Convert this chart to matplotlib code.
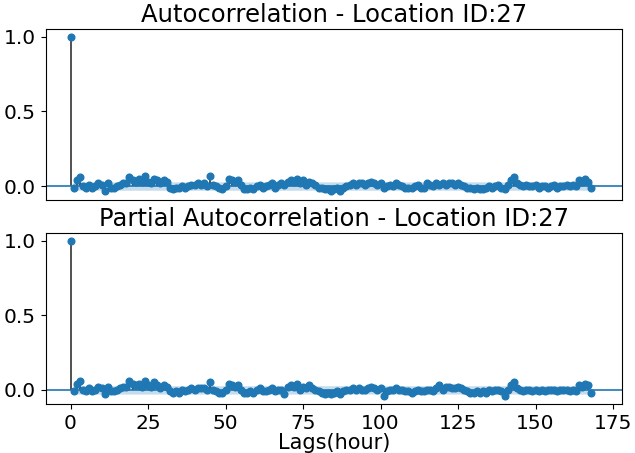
import numpy as np
import matplotlib
matplotlib.use("Agg")
import matplotlib.pyplot as plt

# autocorrelation values, lags 0..168
acf_vals = [
    1.0, -0.01, 0.04, 0.06, 0.00, -0.01, 0.01, -0.01, 0.00, 0.02,
    0.01, -0.03, 0.02, -0.01, -0.01, 0.00, 0.01, 0.02, 0.02, 0.06,
    0.04, 0.03, 0.05, 0.03, 0.07, 0.03, 0.02, 0.05, 0.04, 0.02,
    0.04, 0.03, -0.01, -0.02, -0.01, -0.01, 0.00, -0.01, 0.00, 0.01,
    0.01, 0.02, 0.01, 0.02, 0.00, 0.07, 0.01, 0.00, -0.01, -0.02,
    0.00, 0.05, 0.04, 0.03, 0.04, 0.01, -0.02, -0.02, -0.01, -0.02,
    0.00, 0.01, -0.01, 0.00, 0.01, 0.02, -0.01, 0.01, 0.02, 0.01,
    0.03, 0.04, 0.03, 0.05, 0.02, 0.04, 0.01, 0.03, 0.02, 0.01,
    -0.01, -0.01, -0.02, -0.02, -0.03, -0.02, -0.01, -0.03, -0.01, 0.00,
    0.01, 0.02, 0.01, 0.02, 0.02, 0.01, 0.02, 0.03, 0.02, 0.01,
    0.02, -0.01, 0.00, 0.01, 0.00, 0.02, 0.01, 0.00, -0.01, -0.01,
    -0.01, 0.00, 0.01, -0.01, -0.01, 0.02, 0.01, 0.00, 0.02, 0.01,
    0.02, 0.01, 0.02, 0.02, 0.01, 0.02, 0.01, 0.00, -0.01, -0.01,
    -0.02, -0.01, -0.02, -0.02, -0.01, 0.00, -0.01, 0.00, 0.01, -0.01,
    -0.02, 0.01, 0.04, 0.06, 0.02, 0.01, 0.00, 0.01, 0.00, 0.00,
    0.01, -0.01, 0.00, 0.00, -0.01, 0.00, 0.01, -0.01, 0.00, 0.00,
    0.01, 0.00, 0.01, 0.00, 0.04, 0.03, 0.05, 0.03, -0.01,
]

# partial autocorrelation values, lags 0..168
pacf_vals = [
    1.0, -0.01, 0.04, 0.06, 0.00, -0.01, 0.01, -0.01, 0.00, 0.02,
    0.01, -0.03, 0.02, -0.01, -0.01, 0.00, 0.01, 0.02, 0.02, 0.06,
    0.04, 0.03, 0.04, 0.02, 0.06, 0.03, 0.02, 0.05, 0.03, 0.01,
    0.03, 0.02, -0.01, -0.02, -0.01, -0.02, 0.00, -0.01, 0.00, 0.01,
    0.00, 0.01, 0.01, 0.01, 0.00, 0.05, 0.00, -0.01, -0.02, -0.02,
    0.00, 0.04, 0.03, 0.02, 0.03, 0.00, -0.02, -0.02, -0.01, -0.02,
    0.00, 0.01, -0.01, -0.01, 0.00, 0.01, -0.01, 0.00, 0.00, -0.03,
    0.02, 0.03, 0.02, 0.04, 0.00, 0.02, 0.01, 0.03, 0.01, 0.00,
    -0.01, -0.02, -0.03, -0.02, -0.03, -0.02, -0.01, -0.03, -0.01, 0.00,
    0.00, 0.01, 0.00, 0.01, 0.00, 0.00, 0.01, 0.02, 0.01, 0.00,
    0.01, -0.04, -0.01, 0.00, 0.00, 0.01, 0.00, 0.00, -0.01, -0.01,
    -0.02, -0.01, 0.00, -0.01, -0.01, 0.00, 0.00, -0.01, 0.01, 0.03,
    0.00, 0.02, 0.02, 0.01, 0.01, 0.02, 0.01, 0.00, -0.01, -0.02,
    -0.02, -0.01, -0.02, -0.01, -0.02, 0.00, -0.01, 0.00, 0.00, -0.01,
    -0.04, 0.00, 0.03, 0.05, 0.01, 0.00, -0.01, 0.00, 0.00, -0.01,
    0.00, -0.01, 0.00, -0.01, 0.00, 0.00, 0.00, -0.01, 0.00, 0.00,
    0.00, -0.01, 0.00, -0.01, 0.03, 0.02, 0.04, 0.03, -0.02,
]

conf_band = 0.028  # approx 1.96/sqrt(n)
titles = ["Autocorrelation - Location ID:27", "Partial Autocorrelation - Location ID:27"]
x_ticks = [0, 25, 50, 75, 100, 125, 150, 175]
y_ticks = [0.0, 0.5, 1.0]

fig = plt.figure(figsize=(6.35, 4.53), dpi=100)
ax1 = fig.add_axes([0.072, 0.558, 0.908, 0.378])
ax2 = fig.add_axes([0.072, 0.108, 0.908, 0.378])

for ax, vals, title in zip([ax1, ax2], [acf_vals, pacf_vals], titles):
    vals = np.array(vals)
    lags = np.arange(len(vals))
    ax.vlines(lags, 0, vals, colors='#222222', linewidth=1.1)
    ax.plot(lags, vals, 'o', color='C0', markersize=4.8)
    ax.axhline(0, color='C0', linewidth=1.2)
    band = np.full(len(vals), conf_band)
    band[0] = 0
    ax.fill_between(lags, -band, band, color='C0', alpha=0.25, linewidth=0)
    ax.set_title(title, fontsize=17.5, pad=5)
    ax.set_xlim(-8, 178)
    ax.set_ylim(-0.095, 1.052)
    ax.set_yticks(y_ticks)
    ax.set_xticks(x_ticks)
    ax.tick_params(labelsize=14.5)

ax1.set_xticklabels([])
ax1.tick_params(axis='x', bottom=False)
ax2.set_xlabel("Lags(hour)", fontsize=15, labelpad=0)

fig.savefig("out.png", dpi=100)
